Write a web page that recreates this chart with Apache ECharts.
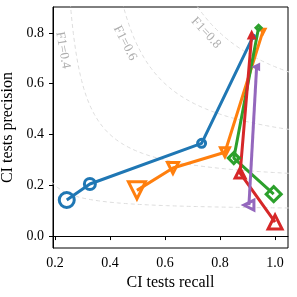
<!DOCTYPE html>
<html><head><meta charset="utf-8">
<script src="https://cdn.jsdelivr.net/npm/echarts@6/dist/echarts.min.js"></script>
<style>html,body{margin:0;padding:0;background:#fff}#c{width:297px;height:297px}</style>
</head><body><div id="c"></div>
<script>
// Data (recall, precision, marker sizes)
const blueRecall = [0.243, 0.327, 0.733, 0.92];
const bluePrecision = [0.142, 0.205, 0.365, 0.785];
const orangeRecall = [0.498, 0.629, 0.818, 0.956];
const orangePrecision = [0.18, 0.268, 0.33, 0.807];
const greenRecall = [0.995, 0.85, 0.94];
const greenPrecision = [0.165, 0.307, 0.82];
const redRecall = [1.0, 0.873, 0.915];
const redPrecision = [0.055, 0.248, 0.79];
const purpleRecall = [0.905, 0.933];
const purplePrecision = [0.122, 0.666];
const f1Levels = [0.2, 0.4, 0.6, 0.8];
const f1LabelLevels = ['F1=0.4', 'F1=0.6', 'F1=0.8'];
const f1LabelRecall = [0.229, 0.455, 0.749];
const f1LabelPrecision = [0.732, 0.76, 0.80];
const xTicks = [0.2, 0.4, 0.6, 0.8, 1.0];
const yTicks = [0.0, 0.2, 0.4, 0.6, 0.8];

const blueSize = [15, 11, 8, 3];
const orangeSize = [17, 11, 9, 4];
const greenSize = [15, 11, 5];
const redSize = [14, 10, 5];
const purpleSize = [10, 4];

const FONT = 'Liberation Serif';
const chart = echarts.init(document.getElementById('c'), null, {renderer: 'canvas'});

function mk(name, rec, prec, sizes, color, symbol, rot) {
  return {
    type: 'line', name: name,
    data: rec.map((r, i) => ({value: [r, prec[i]], symbolSize: sizes[i]})),
    symbol: symbol, symbolRotate: rot,
    lineStyle: {color: color, width: 3},
    itemStyle: {color: 'rgba(255,255,255,0)', borderColor: color, borderWidth: 3},
    showAllSymbol: true, z: 5, clip: false
  };
}

const curves = f1Levels.map(F => {
  const pts = [];
  const rStart = F / (2 - F);
  for (let k = 0; k <= 200; k++) {
    const r = rStart + (1.1 - rStart) * k / 200;
    pts.push([r, F * r / (2 * r - F)]);
  }
  return {type: 'line', data: pts, symbol: 'none', silent: true, z: 1, clip: true,
    lineStyle: {color: '#dddddd', width: 1, type: [4, 3]}};
});

const labels = {
  type: 'scatter', symbolSize: 0, z: 2, silent: true,
  data: f1LabelLevels.map((t, i) => ({
    value: [f1LabelRecall[i], f1LabelPrecision[i]],
    label: {show: true, formatter: t, position: 'inside', rotate: [-80, -63, -47][i],
      color: '#9a9a9a', fontFamily: FONT, fontSize: 13}
  }))
};

chart.setOption({
  animation: false,
  grid: {left: 53, right: 9, top: 7, bottom: 49, outerBoundsMode: 'none', containLabel: false,
    show: true, borderColor: '#000', borderWidth: 1},
  xAxis: {
    type: 'value', min: 0.193, max: 1.047,
    name: 'CI tests recall', nameLocation: 'middle', nameGap: 24,
    nameTextStyle: {fontFamily: FONT, fontSize: 16, color: '#000'},
    axisLine: {show: true, lineStyle: {color: '#000', width: 1}},
    axisTick: {show: true, length: 4, lineStyle: {color: '#000'}, customValues: xTicks},
    axisLabel: {customValues: xTicks, formatter: v => v.toFixed(1), fontFamily: FONT, fontSize: 14, color: '#000', margin: 8},
    splitLine: {show: false}
  },
  yAxis: {
    type: 'value', min: -0.047, max: 0.902,
    name: 'CI tests precision', nameLocation: 'middle', nameGap: 32,
    nameTextStyle: {fontFamily: FONT, fontSize: 16, color: '#000'},
    axisLine: {show: true, lineStyle: {color: '#000', width: 1}},
    axisTick: {show: true, length: 4, lineStyle: {color: '#000'}, customValues: yTicks},
    axisLabel: {customValues: yTicks, formatter: v => v.toFixed(1), fontFamily: FONT, fontSize: 14, color: '#000', margin: 9},
    splitLine: {show: false}
  },
  series: [
    ...curves,
    labels,
    mk('blue', blueRecall, bluePrecision, blueSize, '#1f77b4', 'circle', 0),
    mk('orange', orangeRecall, orangePrecision, orangeSize, '#ff7f0e', 'triangle', 180),
    mk('green', greenRecall, greenPrecision, greenSize, '#2ca02c', 'diamond', 0),
    mk('red', redRecall, redPrecision, redSize, '#d62728', 'triangle', 0),
    mk('purple', purpleRecall, purplePrecision, purpleSize, '#9467bd', 'triangle', 90)
  ]
});
</script></body></html>
